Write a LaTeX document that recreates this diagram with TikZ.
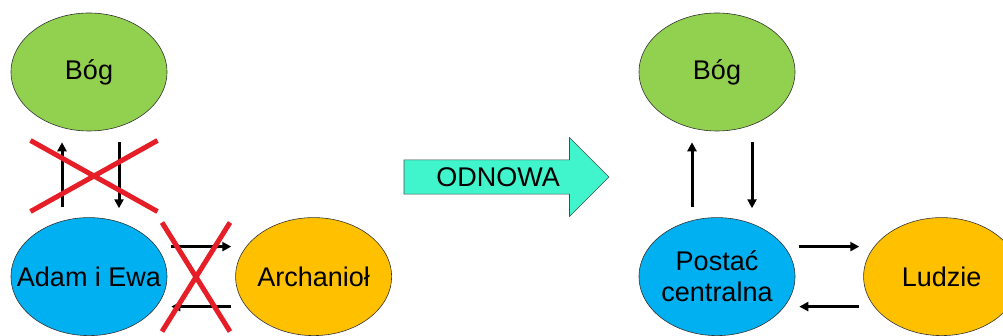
\documentclass[tikz,border=0pt]{standalone}
\usepackage{fontspec}
\setmainfont{Liberation Sans}
\usepackage{tikz}
\usetikzlibrary{arrows.meta,shapes,positioning,calc}
\definecolor{boggreen}{RGB}{146,208,80}
\definecolor{manblue}{RGB}{0,176,240}
\definecolor{peopleorange}{RGB}{255,192,0}
\definecolor{renewteal}{RGB}{64,244,204}
\definecolor{crossred}{RGB}{230,30,40}
\begin{document}
\begin{tikzpicture}[
    x=1pt, y=-1pt,
    node distance=86pt and 68pt,
    font=\fontsize{27}{31}\selectfont,
    ell/.style={ellipse, draw=black!80, semithick, inner xsep=-17pt, inner ysep=0pt, minimum width=156pt, minimum height=118pt, align=center},
    arrow/.style={-{Triangle[length=9pt,width=9pt]}, line width=3pt},
    nope/.style={cross out, draw=crossred, line width=5pt, inner sep=0pt}
]
    \useasboundingbox (0,0) rectangle (1003,336);

    \node[ell, fill=boggreen] (bog1) at (89,72) {Bóg};
    \node[ell, fill=manblue, below=of bog1] (adam) {Adam i Ewa};
    \node[ell, fill=peopleorange, right=of adam] (arch) {Archanioł};

    \draw[arrow, shorten <=10pt, shorten >=11pt] ([xshift=-27pt]adam.north) -- ([xshift=-27pt]bog1.south);
    \draw[arrow, shorten <=11pt, shorten >=9pt] ([xshift=30pt]bog1.south) -- ([xshift=30pt]adam.north);
    \draw[arrow, shorten <=4pt, shorten >=4pt] ([yshift=30pt]adam.east) -- ([yshift=30pt]arch.west);
    \draw[arrow, shorten <=4pt, shorten >=4pt] ([yshift=-30pt]arch.west) -- ([yshift=-30pt]adam.east);

    \node[nope, minimum width=122pt, minimum height=66pt] (nogod) at (94,176) {};
    \node[nope, minimum width=63pt, minimum height=104pt] (noangel) at (196,277) {};

    \node[single arrow, draw=black!70, semithick, fill=renewteal, minimum height=205pt, minimum width=79pt, single arrow head extend=19.5pt, inner sep=5pt] (renew) at (498,177) {ODNOWA};

    \node[ell, fill=boggreen] (bog2) at (717,72) {Bóg};
    \node[ell, fill=manblue, below=of bog2] (post) {Postać\\centralna};
    \node[ell, fill=peopleorange, right=of post] (ludzie) {Ludzie};

    \draw[arrow, shorten <=10pt, shorten >=11pt] ([xshift=-25pt]post.north) -- ([xshift=-25pt]bog2.south);
    \draw[arrow, shorten <=11pt, shorten >=9pt] ([xshift=35pt]bog2.south) -- ([xshift=35pt]post.north);
    \draw[arrow, shorten <=4pt, shorten >=4pt] ([yshift=30pt]post.east) -- ([yshift=30pt]ludzie.west);
    \draw[arrow, shorten <=4pt, shorten >=4pt] ([yshift=-30pt]ludzie.west) -- ([yshift=-30pt]post.east);
\end{tikzpicture}
\end{document}
